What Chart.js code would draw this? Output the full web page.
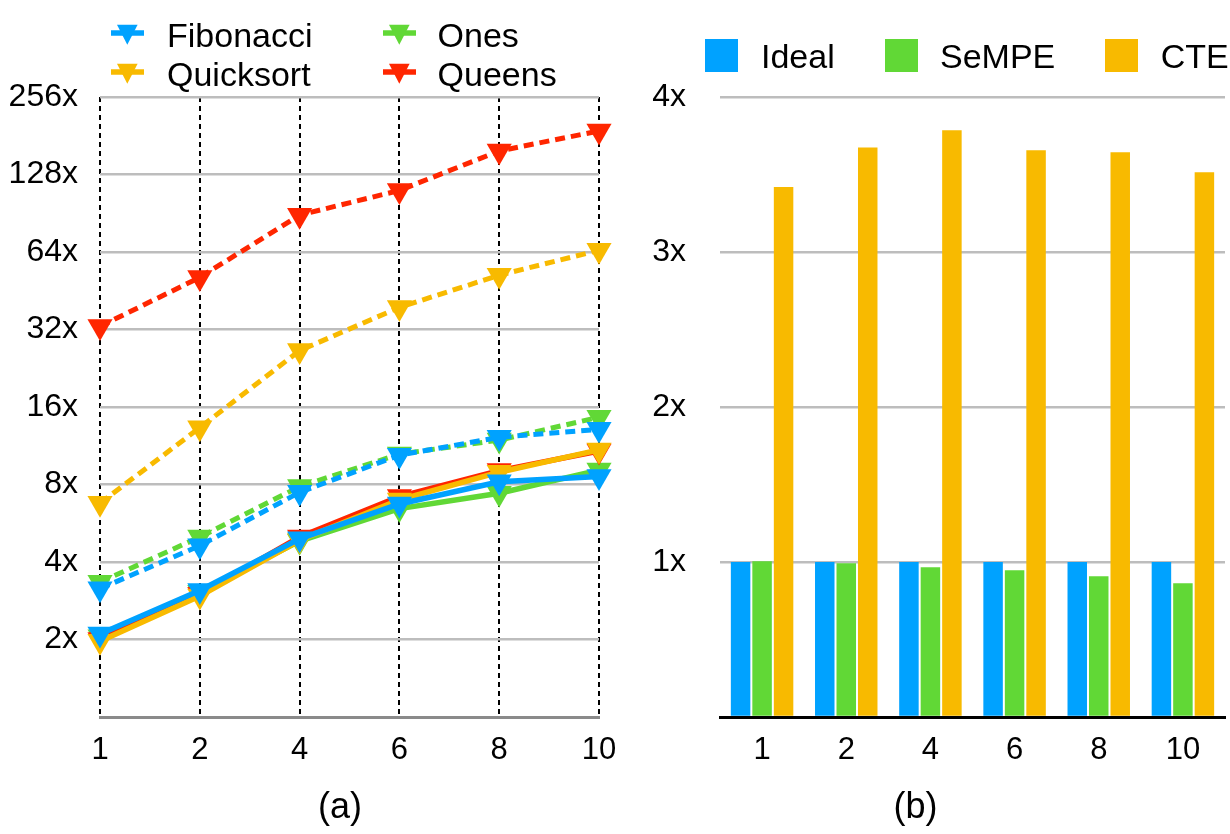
<!DOCTYPE html>
<html>
<head>
<meta charset="utf-8">
<title>Speedup</title>
<script src="https://cdn.jsdelivr.net/npm/chart.js@4.4.1/dist/chart.umd.min.js"></script>
<style>
  body { margin: 0; background: #fff; }
  #page { position: relative; width: 1230px; height: 834px; overflow: hidden;
          font-family: "Liberation Sans", Arial, sans-serif; color: #000; }
  #chartA { position: absolute; left: 0; top: 0; }
  #chartB { position: absolute; left: 600px; top: 0; }
  .lg { position: absolute; white-space: nowrap; font-size: 34px; line-height: 34px; }
  .sq { position: absolute; width: 33px; height: 33px; }
</style>
</head>
<body>
<div id="page">
  <canvas id="chartA" width="680" height="834"></canvas>
  <canvas id="chartB" width="630" height="834"></canvas>
  <div id="legendA"></div>
  <div id="legendB"></div>
</div>
<script>
// ---- data (a): speedup, log scale ----
const threads = ['1', '2', '4', '6', '8', '10'];
const fibSolid     = [2.1, 3.1, 4.92, 6.72, 8.2, 8.6];
const quickSolid   = [1.97, 2.95, 4.86, 6.97, 8.93, 10.9];
const queensSolid  = [2.0, 3.0, 5.0, 7.18, 9.06, 10.8];
const onesSolid    = [2.05, 3.05, 4.82, 6.45, 7.4, 9.1];
const fibDashed    = [3.15, 4.63, 7.46, 10.4, 12.2, 13.1];
const onesDashed   = [3.34, 5.0, 7.85, 10.5, 11.9, 14.6];
const quickDashed  = [6.77, 13.3, 26.5, 39, 52, 65];
const queensDashed = [32.9, 51, 89, 111, 158, 189];
const speedupTicks = [2, 4, 8, 16, 32, 64, 128, 256];

// ---- data (b): bars ----
const barSeries = ['Ideal', 'SeMPE', 'CTE'];
const idealVals = [1, 1, 1, 1, 1, 1];
const sempeVals = [1.005, 0.992, 0.966, 0.946, 0.908, 0.863];
const cteVals   = [3.42, 3.675, 3.785, 3.656, 3.643, 3.514];
const barTicks  = [0, 1, 2, 3, 4];

const BLUE = '#00a2ff', GREEN = '#61d836', YELLOW = '#f8ba00', RED = '#ff2600';

Chart.defaults.font.family = '"Liberation Sans", Arial, sans-serif';
Chart.defaults.color = '#000';

const X_TICK_FONT = 31;
const Y_TICK_FONT = 32;
const CAPTION_FONT = 36;
const CAPTION_PAD = 4;
const PLOT_TOP = 97, PLOT_BOTTOM = 717, H = 834;
const xAxisHeight = H - PLOT_BOTTOM - (CAPTION_FONT * 1.2 + CAPTION_PAD);

function lineSet(label, data, color, dashed) {
  return {
    label: label,
    data: data,
    borderColor: color,
    backgroundColor: color,
    borderWidth: dashed ? 5 : 5.5,
    borderDash: dashed ? [10, 6] : [],
    tension: 0,
    fill: false,
    pointStyle: 'triangle',
    rotation: 180,
    pointRadius: 14.5,
    pointHoverRadius: 14.5,
    pointBackgroundColor: color,
    pointBorderColor: color,
    pointBorderWidth: 0
  };
}

new Chart(document.getElementById('chartA'), {
  type: 'line',
  data: {
    labels: threads,
    datasets: [
      lineSet('Fibonacci', fibSolid, BLUE, false),
      lineSet('Quicksort', quickSolid, YELLOW, false),
      lineSet('Queens', queensSolid, RED, false),
      lineSet('Ones', onesSolid, GREEN, false),
      lineSet('Fibonacci', fibDashed, BLUE, true),
      lineSet('Ones', onesDashed, GREEN, true),
      lineSet('Quicksort', quickDashed, YELLOW, true),
      lineSet('Queens', queensDashed, RED, true)
    ]
  },
  options: {
    responsive: false,
    animation: false,
    layout: { padding: { left: 0, right: 0, top: PLOT_TOP, bottom: 0 } },
    plugins: {
      legend: { display: false },
      tooltip: { enabled: false },
      title: {
        display: true, text: '(a)', position: 'bottom',
        font: { size: CAPTION_FONT, weight: 'normal' },
        padding: { top: 0, bottom: CAPTION_PAD }
      }
    },
    scales: {
      x: {
        type: 'category',
        offset: false,
        grid: { color: '#000', lineWidth: 2, drawTicks: false },
        border: { display: true, color: '#8a8a8a', width: 3, dash: [5, 4] },
        ticks: { font: { size: X_TICK_FONT }, padding: 15, maxRotation: 0 },
        afterFit: function (s) { s.height = xAxisHeight; }
      },
      y: {
        type: 'logarithmic',
        min: 1,
        max: 256,
        afterBuildTicks: function (s) { s.ticks = speedupTicks.map(v => ({ value: v })); },
        grid: { color: '#bdbdbd', lineWidth: 2.5, drawTicks: false },
        border: { display: false },
        ticks: {
          font: { size: Y_TICK_FONT }, padding: 22,
          callback: function (v) { return v + 'x'; }
        },
        afterFit: function (s) { s.width = 100; }
      },
      // empty right-hand spacer so the caption is centred under the whole panel
      spacer: {
        type: 'linear',
        position: 'right',
        grid: { display: false, drawTicks: false },
        border: { display: false },
        ticks: { display: false },
        afterFit: function (s) { s.width = 81; }
      }
    }
  }
});

new Chart(document.getElementById('chartB'), {
  type: 'bar',
  data: {
    labels: threads,
    datasets: [
      { label: barSeries[0], data: idealVals, backgroundColor: BLUE },
      { label: barSeries[1], data: sempeVals, backgroundColor: GREEN },
      { label: barSeries[2], data: cteVals, backgroundColor: YELLOW }
    ]
  },
  options: {
    responsive: false,
    animation: false,
    categoryPercentage: 0.766,
    barPercentage: 0.907,
    layout: { padding: { left: 6, right: 5, top: PLOT_TOP, bottom: 0 } },
    plugins: {
      legend: { display: false },
      tooltip: { enabled: false },
      title: {
        display: true, text: '(b)', position: 'bottom',
        font: { size: CAPTION_FONT, weight: 'normal' },
        padding: { top: 0, bottom: CAPTION_PAD }
      }
    },
    scales: {
      x: {
        grid: { display: false, drawTicks: false },
        border: { display: true, color: '#000', width: 3 },
        ticks: { font: { size: X_TICK_FONT }, padding: 15 },
        afterFit: function (s) { s.height = xAxisHeight; }
      },
      y: {
        min: 0,
        max: 4,
        afterBuildTicks: function (s) { s.ticks = barTicks.map(v => ({ value: v })); },
        grid: { color: '#bdbdbd', lineWidth: 2.5, drawTicks: false },
        border: { display: false },
        ticks: {
          font: { size: Y_TICK_FONT }, padding: 34,
          callback: function (v) { return v === 0 ? '' : v + 'x'; }
        },
        afterFit: function (s) { s.width = 114; }
      }
    }
  }
});

// ---- legends (HTML) ----
const legendA = [
  { text: 'Fibonacci', color: BLUE,   icon: [110.7, 13.3], txt: [167, 18.1] },
  { text: 'Ones',      color: GREEN,  icon: [383, 13.3],   txt: [437.6, 18.1] },
  { text: 'Quicksort', color: YELLOW, icon: [110.7, 51.7], txt: [167, 57.3] },
  { text: 'Queens',    color: RED,    icon: [383, 51.7],   txt: [437.6, 57.3] }
];
let htmlA = '';
legendA.forEach(function (it) {
  htmlA += '<svg style="left:' + it.icon[0] + 'px;top:' + it.icon[1] + 'px;position:absolute" width="34" height="40" viewBox="0 0 34 40">' +
    '<line x1="0" y1="20" x2="33" y2="20" stroke="' + it.color + '" stroke-width="5.3"/>' +
    '<polygon points="6,11.7 26.6,11.7 16.3,31.7" fill="' + it.color + '"/></svg>' +
    '<div class="lg" style="left:' + it.txt[0] + 'px;top:' + it.txt[1] + 'px">' + it.text + '</div>';
});
document.getElementById('legendA').innerHTML = htmlA;

const legendB = [
  { color: BLUE,   sq: 705,    txt: 761 },
  { color: GREEN,  sq: 885,    txt: 940 },
  { color: YELLOW, sq: 1104.7, txt: 1160.7 }
];
let htmlB = '';
legendB.forEach(function (it, i) {
  htmlB += '<div class="sq" style="left:' + it.sq + 'px;top:39px;background:' + it.color + '"></div>' +
    '<div class="lg" style="left:' + it.txt + 'px;top:38.9px">' + barSeries[i] + '</div>';
});
document.getElementById('legendB').innerHTML = htmlB;
</script>
</body>
</html>
